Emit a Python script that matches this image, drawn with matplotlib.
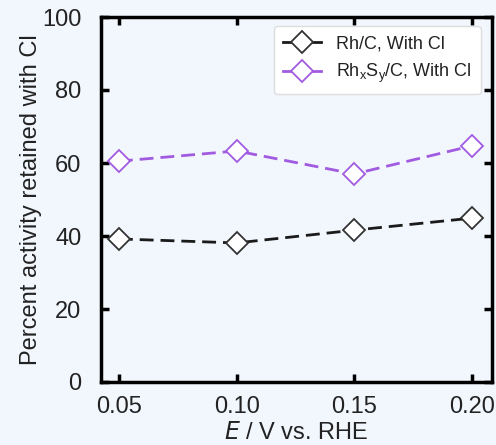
import matplotlib
matplotlib.use("Agg")
import matplotlib.pyplot as plt

plt.rcParams['font.family'] = ['Liberation Sans', 'DejaVu Sans']

potential = [0.05, 0.10, 0.15, 0.20]
rh_c = [39.2, 38.1, 41.6, 44.9]
rhxsy_c = [60.5, 63.3, 57.0, 64.7]
xticks = [0.05, 0.10, 0.15, 0.20]
xtick_labels = ["0.05", "0.10", "0.15", "0.20"]
yticks = [0, 20, 40, 60, 80, 100]

bg = "#f2f6fd"
txt = "#222222"
fig = plt.figure(figsize=(4.96, 4.45), dpi=100, facecolor=bg)
ax = fig.add_axes([101/496, 1-382/445, (492-101)/496, (382-17)/445])
ax.set_facecolor(bg)

ax.plot(potential, rh_c, ls=(0, (5, 2.5)), lw=2, color="#1a1a1a", marker="D",
        ms=11, mfc="white", mec="#333333", mew=1.3, label="Rh/C, With Cl")
ax.plot(potential, rhxsy_c, ls=(0, (5, 2.5)), lw=2, color="#a15be0", marker="D",
        ms=11, mfc="white", mec="#a15be0", mew=1.3,
        label=r"Rh$_\mathregular{x}$S$_\mathregular{y}$/C, With Cl")

ax.set_xlim(0.0424, 0.2085)
ax.set_ylim(0, 100)
ax.set_xticks(xticks)
ax.set_xticklabels(xtick_labels)
ax.set_yticks(yticks)
ax.tick_params(direction="in", length=6, width=2.5, labelsize=17,
               top=True, right=True, labelcolor=txt)
ax.tick_params(axis="y", pad=14)
ax.tick_params(axis="x", pad=10)
for s in ax.spines.values():
    s.set_linewidth(2.5)

ax.set_xlabel(r"$\mathit{E}$ / V vs. RHE", fontsize=17, labelpad=3, color=txt)
ax.set_ylabel("Percent activity retained with Cl", fontsize=17, labelpad=0,
              color=txt)

leg = ax.legend(loc="upper right", fontsize=13, frameon=True, fancybox=True,
                borderpad=0.5, handlelength=2.1, handletextpad=0.85,
                labelspacing=0.55, borderaxespad=0.3,
                bbox_to_anchor=(0.985, 0.99))
for line in leg.get_lines():
    line.set_linestyle("-")
for t in leg.get_texts():
    t.set_color(txt)
leg.get_frame().set_edgecolor("#dddddd")
leg.get_frame().set_facecolor("white")
leg.get_frame().set_alpha(1)

fig.savefig("out.png", dpi=100, facecolor=bg)
